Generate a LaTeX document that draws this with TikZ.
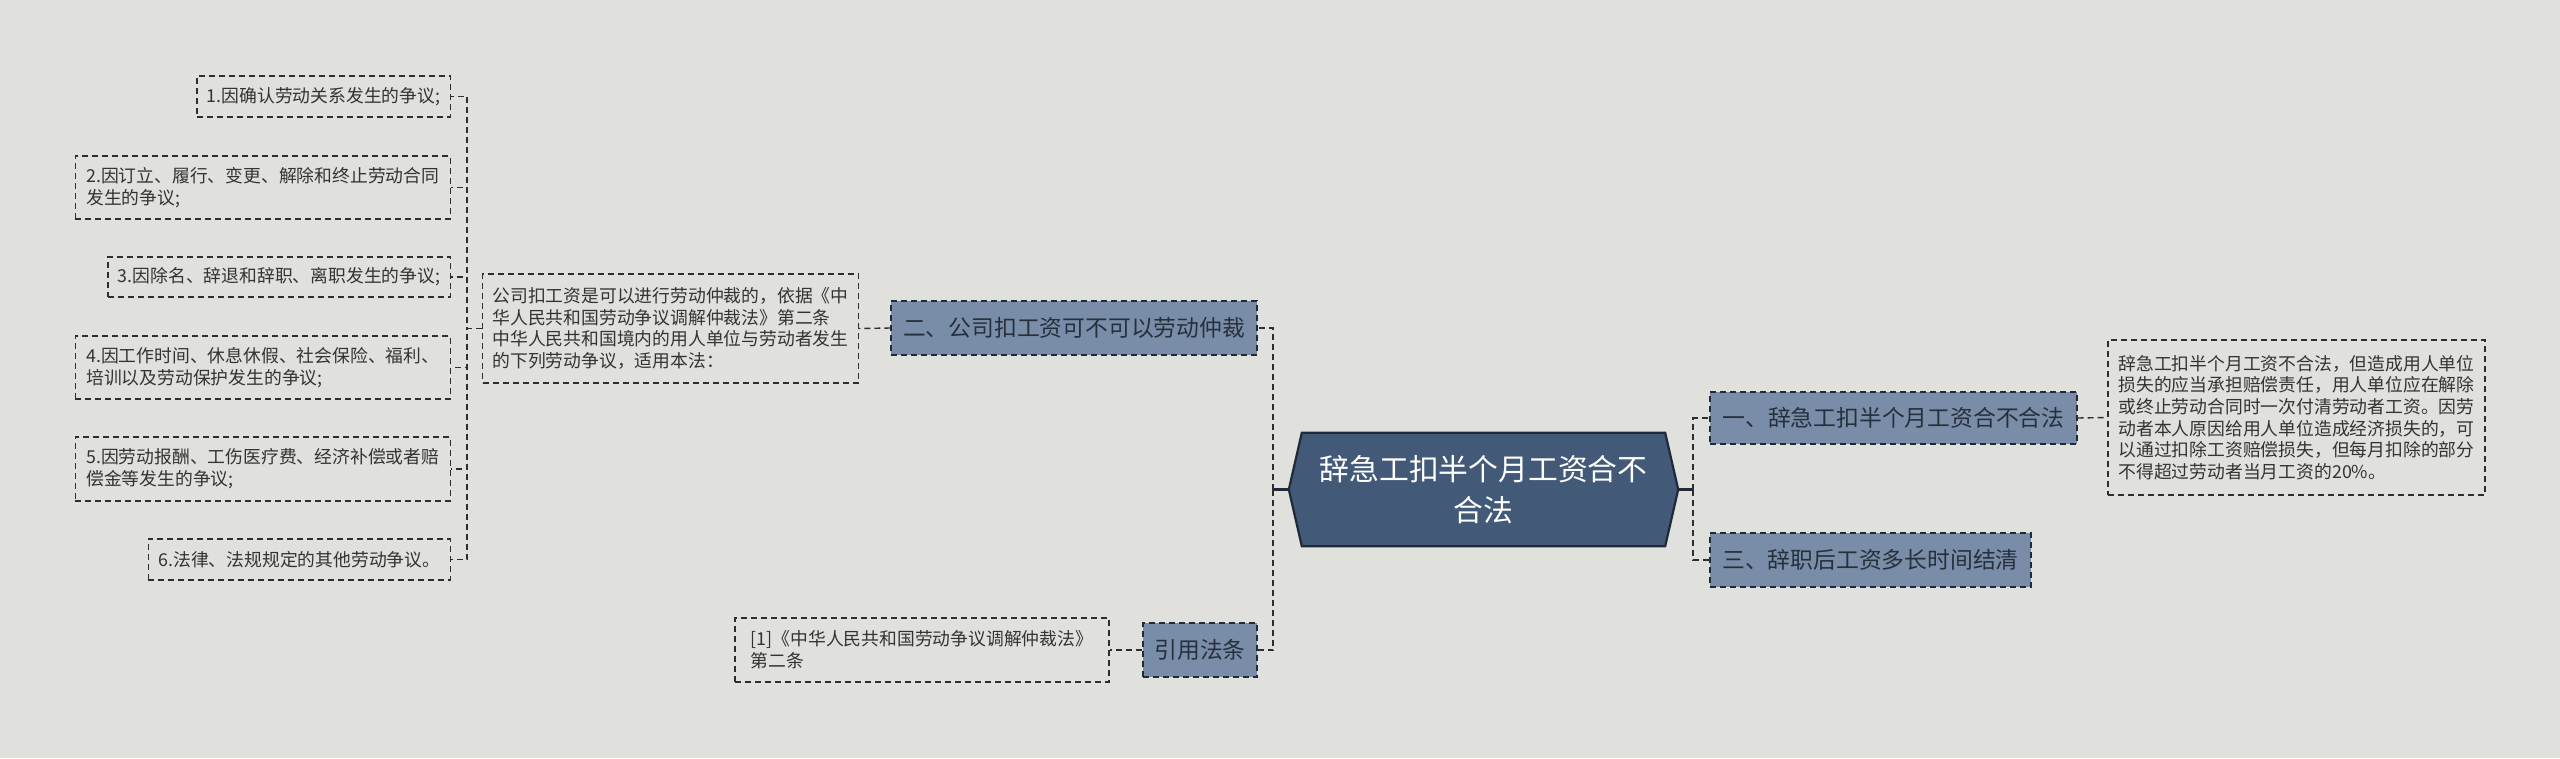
\documentclass[tikz,border=0pt]{standalone}
\usepackage{fontspec}
\setmainfont{Noto Sans CJK SC}
\usetikzlibrary{calc}
\definecolor{bg}{HTML}{E0E1DC}
\definecolor{subfill}{HTML}{7A8DA8}
\definecolor{mainfill}{HTML}{425978}
\definecolor{mainline}{HTML}{1E2A38}
\definecolor{linec}{HTML}{2E2E2E}
\definecolor{txt}{HTML}{333333}
\definecolor{subtxt}{HTML}{26303C}
\tikzset{
  dashline/.style={dash pattern=on 6pt off 4pt, line width=1.4pt},
  leaf/.style={draw=linec, dashline, text=txt, inner xsep=10pt, inner ysep=10pt, align=left,
    font=\fontsize{17.8}{21.7}\selectfont},
  subbox/.style={draw=mainline, dashline, fill=subfill, text=subtxt, inner sep=10pt, align=center,
    font=\fontsize{22.8}{28}\selectfont},
  mainbox/.style={text=white, align=center, inner sep=0pt, font=\fontsize{29.8}{41.7}\selectfont},
  conn/.style={draw=linec, dashline},
  stub/.style={draw=mainline, line width=2.2pt}
}
\begin{document}
\begin{tikzpicture}[x=1pt,y=-1pt]
\fill[bg] (0,0) rectangle (2560,758);
\useasboundingbox (0,0) rectangle (2560,758);

% central node
\node[mainbox, minimum width=363pt, minimum height=113pt] (c) at (1483.5,489.5) {};
\coordinate (hl) at ($(c.west)+(-13,0)$);
\coordinate (hr) at ($(c.east)+(13,0)$);
\filldraw[fill=mainfill, draw=mainline, line width=2.2pt]
  (c.north west) -- (c.north east) -- (hr) -- (c.south east) -- (c.south west) -- (hl) -- cycle;
\node[mainbox, minimum width=363pt, minimum height=113pt] (ct) at (c.center) {辞急工扣半个月工资合不\\合法};

% sub topics
\node[subbox, minimum width=366pt, minimum height=54pt] (er) at (1074,328) {二、公司扣工资可不可以劳动仲裁};
\node[subbox, minimum width=114pt, minimum height=54pt] (yin) at (1200,650) {引用法条};
\node[subbox, minimum width=367pt, minimum height=52pt] (yi) at (1893.5,418) {一、辞急工扣半个月工资合不合法};
\node[subbox, minimum width=321pt, minimum height=54pt] (san) at (1870.5,560) {三、辞职后工资多长时间结清};

% text boxes
\node[leaf, minimum width=375pt, minimum height=109pt] (para) at (670.5,328.5)
  {公司扣工资是可以进行劳动仲裁的，依据《中\\华人民共和国劳动争议调解仲裁法》第二条\\中华人民共和国境内的用人单位与劳动者发生\\的下列劳动争议，适用本法：};
\node[leaf, minimum width=374pt, minimum height=64pt] (ref) at (922,650)
  {[1]《中华人民共和国劳动争议调解仲裁法》\\第二条};
\node[leaf, minimum width=377pt, minimum height=155pt] (rt) at (2296.5,417.5)
  {辞急工扣半个月工资不合法，但造成用人单位\\损失的应当承担赔偿责任，用人单位应在解除\\或终止劳动合同时一次付清劳动者工资。因劳\\动者本人原因给用人单位造成经济损失的，可\\以通过扣除工资赔偿损失，但每月扣除的部分\\不得超过劳动者当月工资的20\%。};

% leaves
\node[leaf, anchor=east, minimum width=252pt, minimum height=41pt] (l1) at (451,96.5) {1.因确认劳动关系发生的争议;};
\node[leaf, anchor=east, minimum width=375pt, minimum height=63pt] (l2) at (451,187.5) {2.因订立、履行、变更、解除和终止劳动合同\\发生的争议;};
\node[leaf, anchor=east, minimum width=340pt, minimum height=40pt] (l3) at (451,277) {3.因除名、辞退和辞职、离职发生的争议;};
\node[leaf, anchor=east, minimum width=375pt, minimum height=63pt] (l4) at (451,367.5) {4.因工作时间、休息休假、社会保险、福利、\\培训以及劳动保护发生的争议;};
\node[leaf, anchor=east, minimum width=375pt, minimum height=64pt] (l5) at (451,469) {5.因劳动报酬、工伤医疗费、经济补偿或者赔\\偿金等发生的争议;};
\node[leaf, anchor=east, minimum width=300pt, minimum height=41pt] (l6) at (451,559.5) {6.法律、法规规定的其他劳动争议。};

% connectors
\coordinate (lx) at (467,0);
\coordinate (clx) at (1273,0);
\coordinate (crx) at (1693,0);

\draw[stub] (hl) -- (hl -| clx);
\draw[conn] (hl -| clx) |- (er.east);
\draw[conn] (hl -| clx) |- (yin.east);
\draw[stub] (hr) -- (hr -| crx);
\draw[conn] (hr -| crx) |- (yi.west);
\draw[conn] (hr -| crx) |- (san.west);

\draw[conn] (yi.east) -- (rt.west);
\draw[conn] (er.west) -- (para.east);
\draw[conn] (yin.west) -- (ref.east);

\foreach \n in {l1,l2,l3,l4,l5,l6}{
  \draw[conn] (para.west) -- (para.west -| lx) |- (\n.east);
}
\end{tikzpicture}
\end{document}
